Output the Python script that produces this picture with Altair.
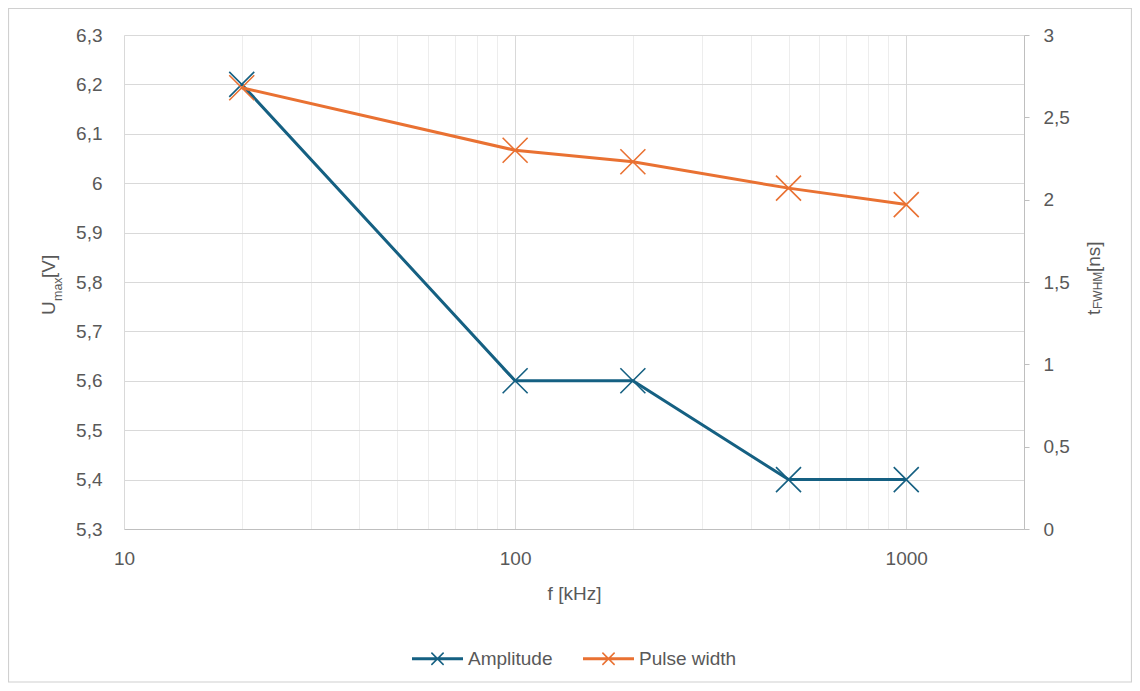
import altair as alt
import pandas as pd

freq = [20, 100, 200, 500, 1000]
amplitude = [6.2, 5.6, 5.6, 5.4, 5.4]
pulse_width = [2.68, 2.30, 2.23, 2.07, 1.97]
series_names = ["Amplitude", "Pulse width"]
colors = ["#156082", "#E97132"]

x_ticks = [10, 20, 30, 40, 50, 60, 70, 80, 90, 100, 200, 300, 400, 500, 600, 700, 800, 900, 1000, 2000]
y_left_ticks = [5.3, 5.4, 5.5, 5.6, 5.7, 5.8, 5.9, 6.0, 6.1, 6.2, 6.3]
y_right_ticks = [0, 0.5, 1, 1.5, 2, 2.5, 3]

amp_df = pd.DataFrame({"f": freq, "v": amplitude, "series": series_names[0]})
pw_df = pd.DataFrame({"f": freq, "v": pulse_width, "series": series_names[1]})
one = pd.DataFrame({"a": [0]})

FONT = "Liberation Sans"
GREY = "#595959"
XPATH = "M-1,-1L1,1M-1,1L1,-1"
LEGPATH = "M-1,0L1,0M-1,-0.025L1,-0.025M-1,0.025L1,0.025M-0.24,-0.24L0.24,0.24M-0.24,0.24L0.24,-0.24"

xscale = alt.Scale(type="log", domain=[10, 2000], nice=False)
color = alt.Color(
    "series:N",
    scale=alt.Scale(domain=series_names, range=colors),
    legend=alt.Legend(
        title=None, orient="none", legendX=287, legendY=597, direction="horizontal",
        symbolType=LEGPATH, symbolSize=2601, symbolStrokeWidth=1.5,
        labelFont=FONT, labelFontSize=19, labelColor=GREY, labelOffset=4,
        columnPadding=27, symbolOffset=0,
    ),
)

xaxis = alt.Axis(
    values=x_ticks, format="d",
    labelExpr="(datum.value == 10 || datum.value == 100 || datum.value == 1000) ? datum.label : ''",
    title="f [kHz]", titleFont=FONT, titleFontSize=19, titleColor=GREY, titleFontWeight="normal",
    titlePadding=16, labelFont=FONT, labelFontSize=19, labelColor=GREY, labelPadding=20,
    ticks=False, tickSize=0, domainColor="#bfbfbf", labelFlush=False,
    grid=True,
    gridColor={"condition": {"test": "datum.value == 100 || datum.value == 1000", "value": "#d9d9d9"}, "value": "#ededed"},
)

amp = alt.Chart(amp_df).mark_line(
    strokeWidth=3,
    point=alt.OverlayMarkDef(shape=XPATH, size=625, filled=False, strokeWidth=1.6),
).encode(
    x=alt.X("f:Q", scale=xscale, axis=xaxis),
    y=alt.Y("v:Q", scale=alt.Scale(domain=[5.3, 6.3], nice=False, zero=False),
            axis=alt.Axis(values=y_left_ticks, title=None,
                          labelExpr="replace(format(datum.value, '~g'), '.', ',')",
                          labelFont=FONT, labelFontSize=19, labelColor=GREY,
                          labelPadding=22, ticks=False, tickSize=0,
                          domainColor="#d9d9d9", grid=True, gridColor="#d9d9d9")),
    color=color,
)

pw = alt.Chart(pw_df).mark_line(
    strokeWidth=3,
    point=alt.OverlayMarkDef(shape=XPATH, size=625, filled=False, strokeWidth=1.6),
).encode(
    x=alt.X("f:Q", scale=xscale),
    y=alt.Y("v:Q", scale=alt.Scale(domain=[0, 3], nice=False),
            axis=alt.Axis(orient="right", values=y_right_ticks, title=None,
                          labelExpr="replace(format(datum.value, '~g'), '.', ',')",
                          labelFont=FONT, labelFontSize=19, labelColor=GREY,
                          labelPadding=14, ticks=True, tickSize=5, tickColor="#bfbfbf",
                          domainColor="#bfbfbf", grid=False)),
    color=color,
)

border = alt.Chart(one).mark_rect(fill="transparent", stroke="#d0d0d0", strokeWidth=1.2).encode(
    x=alt.value(-115.5), x2=alt.value(1007.5), y=alt.value(-26.5), y2=alt.value(647)
)


def txt(s, x, y, size):
    return alt.Chart(one).mark_text(
        angle=270, align="left", baseline="alphabetic", font=FONT, fontSize=size, color=GREY
    ).encode(x=alt.value(x), y=alt.value(y), text=alt.value(s))


titles = alt.layer(
    txt("U", -69, 280, 19), txt("max", -62, 266, 12.5), txt(" [V]", -69, 243, 19),
    txt("t", 976, 280, 19), txt("FWHM", 978, 274, 12), txt(" [ns]", 976, 237, 19),
)

chart = alt.layer(border, amp, pw, titles).resolve_scale(y="independent").properties(
    width=900, height=494,
    autosize=alt.AutoSizeParams(type="none"),
    padding={"left": 116, "top": 27, "right": 108, "bottom": 154},
).configure_view(strokeWidth=0)

chart.save("out.html", embed_options={"renderer": "svg", "actions": False})
